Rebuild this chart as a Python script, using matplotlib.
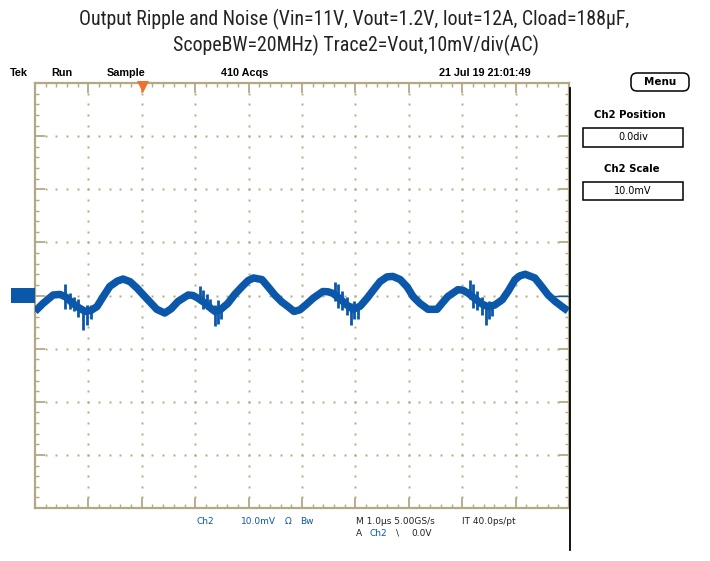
import matplotlib
matplotlib.use("Agg")
import matplotlib.pyplot as plt
import numpy as np
from matplotlib.patches import Rectangle, FancyBboxPatch
from matplotlib.lines import Line2D
from matplotlib import font_manager

# ---------------- data ----------------
time_us = [0.00, 0.15, 0.34, 0.47, 0.58, 0.71, 0.82, 0.94, 1.05, 1.16, 1.29, 1.40,
           1.54, 1.65, 1.78, 1.91, 2.02, 2.15, 2.28, 2.43, 2.55, 2.68, 2.87, 2.96,
           3.05, 3.18, 3.28, 3.37, 3.48, 3.61, 3.74, 3.88, 3.99, 4.09, 4.25, 4.36,
           4.49, 4.62, 4.74, 4.85, 4.96, 5.09, 5.21, 5.39, 5.49, 5.58, 5.71, 5.84,
           5.96, 6.09, 6.22, 6.35, 6.46, 6.59, 6.70, 6.84, 6.97, 7.08, 7.21, 7.36,
           7.53, 7.62, 7.73, 7.92, 8.01, 8.11, 8.24, 8.37, 8.48, 8.61, 8.75, 8.86,
           8.99, 9.08, 9.18, 9.36, 9.48, 9.61, 9.74, 9.87, 9.98]
ripple_mv = [-3.0, -1.5, 0.1, 0.2, -0.3, -1.5, -2.3, -3.0, -2.8, -2.1, 0.0, 1.7,
             2.7, 3.1, 2.6, 1.4, 0.2, -1.2, -2.6, -3.3, -2.5, -1.1, 0.1, 0.0,
             -0.5, -1.4, -2.3, -3.0, -2.6, -1.5, 0.2, 1.7, 2.8, 3.3, 3.0, 1.7,
             0.1, -1.2, -2.1, -3.0, -2.7, -1.6, -0.5, 0.75, 0.7, 0.4, -0.6, -1.8,
             -2.6, -2.0, -0.5, 1.2, 2.6, 3.5, 3.6, 3.0, 1.6, -0.2, -1.5, -2.6,
             -2.6, -1.5, -0.2, 1.1, 1.0, 0.45, -0.6, -1.6, -2.1, -1.8, -0.8, 0.8,
             3.0, 3.7, 4.0, 3.3, 1.8, 0.1, -1.1, -2.1, -2.9]

# switching-noise spikes: time, lowest and highest excursion (mV)
spike_t = [0.56, 0.66, 0.73, 0.81, 0.90, 0.97, 1.05,
           3.09, 3.15, 3.22, 3.28, 3.37, 3.43, 3.48,
           5.62, 5.67, 5.75, 5.84, 5.92, 5.97, 6.05,
           8.15, 8.20, 8.28, 8.37, 8.45, 8.50, 8.56]
spike_lo = [-2.5, -2.5, -3.0, -4.0, -6.4, -5.5, -4.5,
            -1.5, -2.5, -2.5, -3.0, -5.8, -5.3, -4.5,
            -1.1, -2.3, -2.8, -3.6, -5.5, -4.5, -4.4,
            -0.6, -2.3, -2.8, -3.6, -5.5, -4.5, -3.9]
spike_hi = [2.1, 0.4, -0.2, -0.6, -2.5, -1.7, -1.7,
            1.7, 1.1, 0.2, -0.6, -1.7, -0.8, -2.1,
            2.6, 2.1, 0.8, -0.2, -1.5, -1.0, -2.0,
            3.0, 2.1, 0.8, -0.2, -1.7, -1.0, -1.4]

trigger_t = 2.02
title_lines = ["Output Ripple and Noise (Vin=11V, Vout=1.2V, Iout=12A, Cload=188µF,",
               "ScopeBW=20MHz) Trace2=Vout,10mV/div(AC)"]
header_texts = ["Tek", "Run", "Sample", "410 Acqs", "21 Jul 19 21:01:49"]
ch2_position = "0.0div"
ch2_scale = "10.0mV"

# ---------------- styling ----------------
W, H = 710, 561
BLUE = "#0b58aa"
TAN = "#b3a884"
DOT = "#b3a983"
ORANGE = "#f0702c"

names = {f.name for f in font_manager.fontManager.ttflist}
TITLE_FONT, TITLE_SIZE = "Roboto", 12.3
for cand in ["Roboto Condensed", "Liberation Sans Narrow", "Open Sans Condensed"]:
    if cand in names:
        TITLE_FONT, TITLE_SIZE = cand, 14.3
        break
TFAM = [TITLE_FONT, "DejaVu Sans"]
SFAM = ["Liberation Sans", "DejaVu Sans"]
DFAM = ["DejaVu Sans"]


def fx(x):
    return x / W


def fy(y):
    return 1 - y / H


fig = plt.figure(figsize=(W / 100, H / 100), dpi=100)
fig.patch.set_facecolor("white")

ax = fig.add_axes([fx(35), fy(508), 534 / W, 425 / H])
ax.set_xlim(0, 10)
ax.set_ylim(-40, 40)
for s in ax.spines.values():
    s.set_color(TAN)
    s.set_linewidth(1.6)
ax.set_xticks(np.arange(0, 11, 1))
ax.set_xticks(np.arange(0, 10.01, 0.2), minor=True)
ax.set_yticks(np.arange(-40, 41, 10))
ax.set_yticks(np.arange(-40, 40.1, 2), minor=True)
ax.tick_params(which="major", direction="in", length=7, width=1.3, color=TAN,
               top=True, right=True, labelbottom=False, labelleft=False)
ax.tick_params(which="minor", direction="in", length=2.6, width=1.0, color=TAN,
               top=True, right=True)

# dotted graticule
yy = np.arange(-38, 38.1, 2)
xx = np.arange(0.2, 9.81, 0.2)
for xi in range(1, 10):
    ax.plot([xi] * len(yy), yy, ls="none", marker="s", ms=1.4, mew=0, color=DOT, zorder=1)
for yi in range(-30, 31, 10):
    ax.plot(xx, [yi] * len(xx), ls="none", marker="s", ms=1.4, mew=0, color=DOT, zorder=1)

# trace
ax.plot(time_us, ripple_mv, color=BLUE, lw=5.4, solid_joinstyle="round",
        solid_capstyle="butt", zorder=3)
ax.vlines(spike_t, spike_lo, spike_hi, color=BLUE, lw=2.0, zorder=3)
ax.hlines(0, 9.72, 10, color=BLUE, lw=1.0, zorder=4)

# trigger marker
ax.plot([trigger_t], [39.3], marker="v", ms=8, color=ORANGE, mew=0,
        clip_on=False, zorder=6)

# ground reference marker
fig.patches.append(Rectangle((fx(11), fy(303)), 24 / W, 15 / H,
                             transform=fig.transFigure, fc=BLUE, ec="none"))
# screen edge line
fig.add_artist(Line2D([fx(570), fx(570)], [fy(88), fy(550)], color="black", lw=1.3))

# title
fig.text(fx(354), fy(19), title_lines[0], ha="center", va="center",
         fontsize=TITLE_SIZE, family=TFAM, color="#222222")
fig.text(fx(356), fy(45), title_lines[1], ha="center", va="center",
         fontsize=TITLE_SIZE, family=TFAM, color="#222222")

# header texts
hx = [19, 62, 126, 245, 485]
for x, t in zip(hx, header_texts):
    fig.text(fx(x), fy(73), t, ha="center", va="center", fontsize=7.8,
             fontweight="bold", family=SFAM, color="black")

# right panel
menu_box = FancyBboxPatch((6.31, (H - 91) / 100), 0.58, 0.18,
                          boxstyle="round,pad=0,rounding_size=0.06",
                          transform=fig.dpi_scale_trans, fc="white", ec="black", lw=1.1)
fig.patches.append(menu_box)
fig.text(fx(660), fy(82), "Menu", ha="center", va="center", fontsize=7.5,
         fontweight="bold", family=DFAM)
fig.text(fx(630), fy(115), "Ch2 Position", ha="center", va="center", fontsize=7.3,
         fontweight="bold", family=DFAM)
fig.patches.append(Rectangle((fx(583), fy(147)), 100 / W, 19 / H,
                             transform=fig.transFigure, fc="white", ec="black", lw=1.1))
fig.text(fx(633), fy(137.5), ch2_position, ha="center", va="center", fontsize=7,
         family=DFAM)
fig.text(fx(632), fy(169), "Ch2 Scale", ha="center", va="center", fontsize=7.3,
         fontweight="bold", family=DFAM)
fig.patches.append(Rectangle((fx(583), fy(200)), 100 / W, 18 / H,
                             transform=fig.transFigure, fc="white", ec="black", lw=1.1))
fig.text(fx(633), fy(191), ch2_scale, ha="center", va="center", fontsize=7,
         family=DFAM)

# status line
fs = 6.5
fig.text(fx(205), fy(521), "Ch2", ha="center", va="center", fontsize=fs, color=BLUE, family=DFAM)
fig.text(fx(258), fy(521), "10.0mV", ha="center", va="center", fontsize=fs, color=BLUE, family=DFAM)
fig.text(fx(288), fy(521), "Ω", ha="center", va="center", fontsize=fs, color=BLUE, family=DFAM)
fig.text(fx(307), fy(521), "Bw", ha="center", va="center", fontsize=fs, color=BLUE, family=DFAM)
fig.text(fx(356), fy(521), "M 1.0µs 5.00GS/s", ha="left", va="center", fontsize=fs,
         color="#222222", family=DFAM)
fig.text(fx(462), fy(521), "IT 40.0ps/pt", ha="left", va="center", fontsize=fs,
         color="#222222", family=DFAM)
fig.text(fx(356), fy(533), "A", ha="left", va="center", fontsize=fs, color="#222222", family=DFAM)
fig.text(fx(369), fy(533), "Ch2", ha="left", va="center", fontsize=fs, color=BLUE, family=DFAM)
fig.text(fx(398), fy(533), "\\", ha="center", va="center", fontsize=fs, color="#222222", family=DFAM)
fig.text(fx(411), fy(533), "0.0V", ha="left", va="center", fontsize=fs, color="#222222", family=DFAM)

fig.savefig("out.png", dpi=100)
